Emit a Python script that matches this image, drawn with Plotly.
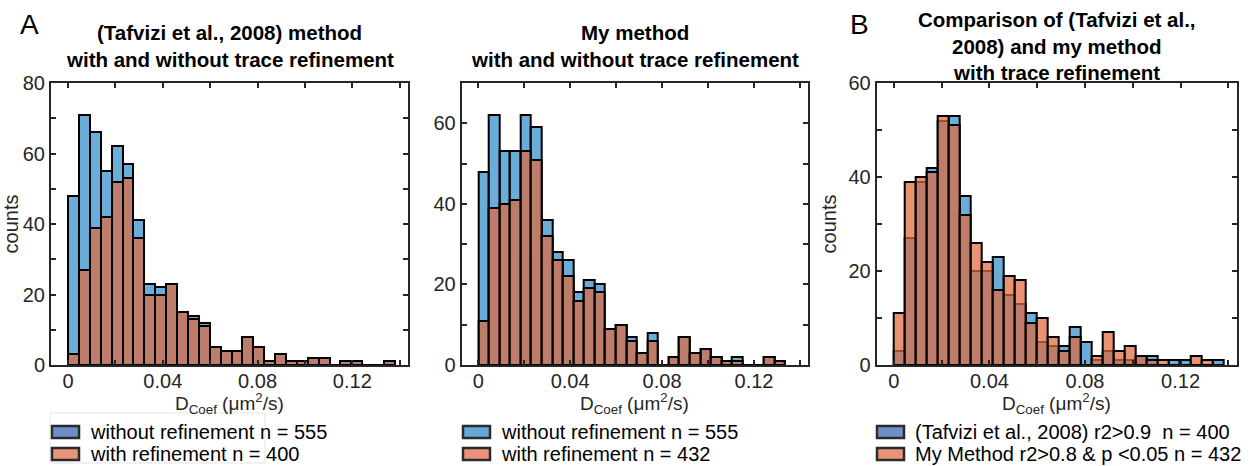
import numpy as np
import plotly.graph_objects as go

# ---------------- data (histogram counts per bin, bins start at 0) ----------------
BIN_WIDTH = 0.0046  # um^2/s

# Panel A-left: (Tafvizi et al., 2008) method
tafvizi_without = [48, 71, 66, 55, 62, 57, 41, 23, 22, 23, 15, 14, 12, 5, 4,
                   4, 8, 5, 1, 3, 1, 1, 2, 2, 0, 1, 1, 0, 0, 1]
tafvizi_with = [3, 27, 39, 42, 52, 53, 36, 20, 20, 23, 15, 13, 11, 5, 4,
                4, 8, 5, 1, 3, 1, 1, 2, 2, 0, 1, 1, 0, 0, 1]

# Panel A-right: My method
mine_without = [48, 62, 53, 53, 62, 59, 36, 28, 26, 18, 21, 20, 9, 10, 7,
                3, 8, 0, 2, 7, 3, 4, 2, 1, 2, 0, 0, 2, 1]
mine_with = [11, 39, 40, 41, 53, 51, 32, 26, 22, 16, 19, 18, 9, 10, 6,
             3, 6, 0, 2, 7, 3, 4, 2, 1, 1, 0, 0, 2, 1]

labels_p1 = ["without refinement n = 555", "with refinement n = 400"]
labels_p2 = ["without refinement n = 555", "with refinement n = 432"]
labels_p3 = ["(Tafvizi et al., 2008) r2&gt;0.9\u00a0 n = 400",
             "My Method r2&gt;0.8 &amp; p &lt;0.05 n = 432"]

titles_p1 = ["(Tafvizi et al., 2008) method", "with and without trace refinement"]
titles_p2 = ["My method", "with and without trace refinement"]
titles_p3 = ["Comparison of (Tafvizi et al.,", "2008) and my method", "with trace refinement"]

y_ranges = [[0, 80], [0, 70], [0, 60]]
x_range = [-0.0072, 0.1435]
x_ticks = [0, 0.04, 0.08, 0.12]
x_ticklabels = ["0", "0.04", "0.08", "0.12"]

# ---------------- style ----------------
W, H = 1259, 466
FONT = "Liberation Sans, Arial, Helvetica, sans-serif"
AX = "#262626"
BLUE = "rgba(0,114,189,0.58)"
ORANGE = "rgba(222,106,62,0.72)"
EDGE = dict(color="black", width=2)
LEG_BLUE_A = "#6f8fcc"
LEG_BLUE_B = "#62aadc"
LEG_ORANGE = "#e8937a"

def centers(counts):
    return (np.arange(len(counts)) + 0.5) * BIN_WIDTH

fig = go.Figure()

panels = [
    (tafvizi_without, tafvizi_with, "x", "y"),
    (mine_without, mine_with, "x2", "y2"),
    (tafvizi_with, mine_with, "x3", "y3"),
]
for a, b, xa, ya in panels:
    fig.add_trace(go.Bar(x=centers(a), y=a, width=BIN_WIDTH, showlegend=False,
                         marker=dict(color=BLUE, line=EDGE), xaxis=xa, yaxis=ya))
    fig.add_trace(go.Bar(x=centers(b), y=b, width=BIN_WIDTH, showlegend=False,
                         marker=dict(color=ORANGE, line=EDGE), xaxis=xa, yaxis=ya))

# pixel-based placement helpers
def px_x(p):
    return p / W

def px_y(p):
    return 1 - p / H

x_doms = [(51, 408), (461.7, 808), (876.7, 1236.7)]
y_dom = [px_y(365), px_y(83)]

xtitle = "D<sub>Coef</sub> (\u03bcm<sup>2</sup>/s)"

layout = dict(
    width=W, height=H,
    margin=dict(l=0, r=0, t=0, b=0, autoexpand=False),
    paper_bgcolor="white", plot_bgcolor="white",
    barmode="overlay", bargap=0,
    font=dict(family=FONT, size=20, color=AX),
    showlegend=False,
)

for i, (xd, yr) in enumerate(zip(x_doms, y_ranges)):
    sx = "" if i == 0 else str(i + 1)
    layout["xaxis" + sx] = dict(
        domain=[px_x(xd[0]), px_x(xd[1])], range=x_range,
        anchor="y" + sx, automargin=False,
        tickvals=x_ticks, ticktext=x_ticklabels,
        ticks="inside", ticklen=5, tickwidth=1.5, tickcolor=AX,
        minor=dict(tickvals=[0.02, 0.06, 0.10, 0.14], ticks="inside", ticklen=5,
                   tickwidth=1.5, tickcolor=AX),
        showline=True, linecolor=AX, linewidth=2, mirror="allticks",
        showgrid=False, zeroline=False, ticklabelstandoff=-3,
        tickfont=dict(size=20, color=AX),
    )
    layout["yaxis" + sx] = dict(
        domain=y_dom, range=yr, anchor="x" + sx, automargin=False,
        dtick=20, ticks="inside", ticklen=5, tickwidth=1.5, tickcolor=AX,
        minor=dict(dtick=10, ticks="inside", ticklen=5, tickwidth=1.5, tickcolor=AX),
        showline=True, linecolor=AX, linewidth=2, mirror="allticks",
        showgrid=False, zeroline=False,
        tickfont=dict(size=20, color=AX),
        title=dict(text="counts" if i != 1 else "", font=dict(size=20, color=AX),
                   standoff=6),
    )

fig.update_layout(**layout)

annotations = []
shapes = []

# titles (one annotation per line) and x-axis titles
title_sets = [(titles_p1, [33, 59]), (titles_p2, [33, 59]), (titles_p3, [20, 46, 72])]
for (lines, ys), xd in zip(title_sets, x_doms):
    cx = px_x((xd[0] + xd[1]) / 2)
    for txt, yy in zip(lines, ys):
        annotations.append(dict(text="<b>" + txt + "</b>", x=cx, y=px_y(yy),
                                xref="paper", yref="paper", showarrow=False,
                                xanchor="center", yanchor="middle",
                                font=dict(size=20.5, color="black", family=FONT)))
    annotations.append(dict(text=xtitle, x=cx, y=px_y(403), xref="paper", yref="paper",
                            showarrow=False, xanchor="center", yanchor="middle",
                            font=dict(size=19, color=AX, family=FONT)))
for letter, lx in (("A", 29), ("B", 859)):
    annotations.append(dict(text=letter, x=px_x(lx), y=px_y(25), xref="paper",
                            yref="paper", showarrow=False, xanchor="center",
                            yanchor="middle",
                            font=dict(size=28, color="black", family=FONT)))

# legends drawn as swatch + label under each panel
legend_defs = [
    (labels_p1, [LEG_BLUE_A, LEG_ORANGE], 52, True),
    (labels_p2, [LEG_BLUE_B, LEG_ORANGE], 463, False),
    (labels_p3, [LEG_BLUE_A, LEG_ORANGE], 877, False),
]
row_y = [432, 454]
for labs, cols, lx, boxed in legend_defs:
    if boxed:
        shapes.append(dict(type="rect", xref="paper", yref="paper",
                           x0=px_x(lx - 2), x1=px_x(265), y0=px_y(413), y1=px_y(463),
                           line=dict(color="#e3e3e3", width=1), fillcolor="white",
                           layer="below"))
    for lab, col, ry in zip(labs, cols, row_y):
        shapes.append(dict(type="rect", xref="paper", yref="paper",
                           x0=px_x(lx), x1=px_x(lx + 27), y0=px_y(ry + 6), y1=px_y(ry - 6),
                           line=dict(color="#2b2b2b", width=2.5), fillcolor=col))
        annotations.append(dict(text=lab, x=px_x(lx + 36), y=px_y(ry), xref="paper",
                                yref="paper", showarrow=False, xanchor="left",
                                yanchor="middle",
                                font=dict(size=20, color="black", family=FONT)))

fig.update_layout(annotations=annotations, shapes=shapes)

fig.write_html("out.html")
